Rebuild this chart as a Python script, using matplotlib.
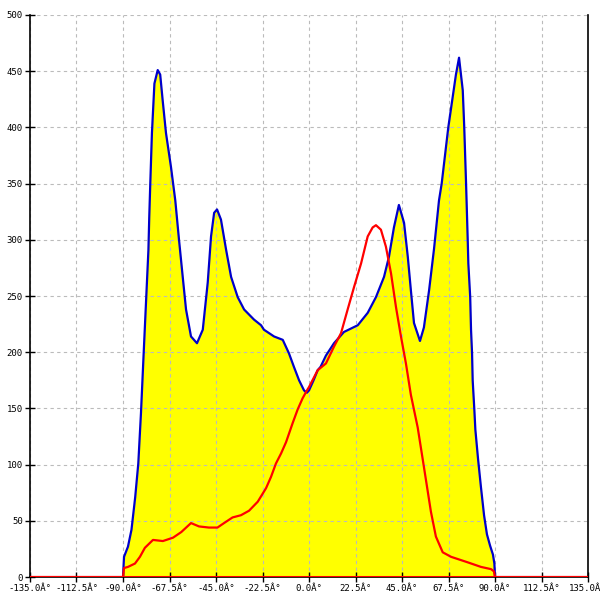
import matplotlib
matplotlib.use("Agg")
import matplotlib.pyplot as plt
import numpy as np

# Blue envelope (filled yellow)
blue_deg = [-90.0, -89.5, -87.6, -85.9, -84.1, -82.6, -81.3, -80.1, -79.1, -77.7,
            -77.3, -76.8, -76.0, -74.8, -73.2, -72.0, -70.8, -69.2, -66.8, -64.7,
            -62.9, -61.1, -59.5, -57.1, -54.2, -51.4, -49.0, -47.4, -45.9, -44.5,
            -42.6, -40.1, -37.7, -34.5, -31.4, -26.6, -23.2, -21.8, -16.9, -12.7,
            -9.7, -7.3, -4.8, -2.4, -1.0, 0.0, 2.2, 4.2, 5.6, 8.2, 12.1, 16.9,
            23.6, 28.4, 32.4, 36.3, 38.7, 41.1, 43.5, 46.0, 47.8, 49.3, 50.8,
            53.7, 55.6, 58.1, 60.5, 62.9, 64.2, 67.4, 71.1, 72.6, 74.4, 75.1,
            76.0, 76.8, 77.1, 78.0, 78.4, 78.9, 79.2, 80.0, 80.5, 81.8, 83.2,
            84.7, 86.1, 87.6, 89.0, 89.7, 90.0]
blue_val = [0, 18, 27, 42, 71, 101, 146, 195, 235, 291,
            320, 350, 395, 439, 451, 447, 424, 395, 365, 335,
            300, 267, 238, 214, 208, 220, 262, 303, 324, 327,
            318, 291, 267, 249, 238, 229, 224, 220, 214, 211,
            199, 187, 175, 166, 164, 166, 175, 184, 187, 197, 208, 218,
            224, 235, 249, 267, 285, 311, 331, 315, 285, 255, 226,
            210, 222, 255, 292, 335, 350, 400, 447, 462, 433, 401,
            350, 300, 279, 249, 220, 199, 175, 149, 131, 105, 80,
            55, 38, 28, 20, 12, 0]

# Red curve
red_deg = [-135.0, -90.0, -89.5, -87.6, -84.2, -81.8, -79.4, -75.5, -70.7, -65.8,
           -61.8, -57.1, -53.2, -48.4, -44.3, -41.1, -37.0, -32.9, -29.0, -24.8,
           -20.8, -18.4, -16.0, -13.5, -11.1, -7.9, -5.5, -3.1, -1.0, 0.0,
           4.2, 8.2, 12.1, 15.5, 18.7, 21.8, 25.2, 28.4, 30.8, 32.4, 34.8,
           37.2, 39.7, 42.1, 44.5, 46.9, 49.3, 52.6, 55.6, 59.0, 61.4, 64.7,
           68.7, 76.9, 83.2, 88.1, 89.5, 90.0, 135.0]
red_val = [0, 0, 8, 9, 12, 18, 26, 33, 32, 35,
           40, 48, 45, 44, 44, 48, 53, 55, 59, 67,
           79, 89, 101, 110, 120, 137, 149, 159, 166, 169,
           184, 190, 205, 217, 238, 258, 279, 303, 311, 313, 309,
           294, 270, 240, 214, 190, 162, 133, 98, 58, 36, 22,
           18, 13, 9, 7, 5, 0, 0]

x_ticks = [-135.0, -112.5, -90.0, -67.5, -45.0, -22.5, 0.0, 22.5, 45.0, 67.5, 90.0, 112.5, 135.0]
y_ticks = [0, 50, 100, 150, 200, 250, 300, 350, 400, 450, 500]

fig = plt.figure(figsize=(6, 6), dpi=100)
ax = fig.add_axes([0.05, 0.0383, 0.93, 0.9367])

ax.fill_between(blue_deg, blue_val, 0, color="#ffff00", linewidth=0, zorder=1)
ax.plot(blue_deg, blue_val, color="#0000cc", linewidth=1.6, zorder=3,
        solid_joinstyle="round")
ax.plot(red_deg, red_val, color="#ff0000", linewidth=1.6, zorder=4,
        solid_joinstyle="round")
ax.axhline(0, color="#ff0000", linewidth=2.2, zorder=4)

ax.set_xlim(-135, 135)
ax.set_ylim(0, 500)
ax.set_xticks(x_ticks)
ax.set_xticklabels([f"{v:.1f}\u00c2\u00b0" for v in x_ticks])
ax.set_yticks(y_ticks)
ax.set_yticklabels([str(v) for v in y_ticks])

ax.grid(True, color="#bbbbbb", linestyle=(0, (3, 3)), linewidth=0.8)
ax.set_axisbelow("line")

ax.spines["top"].set_visible(False)
for s in ["left", "right", "bottom"]:
    ax.spines[s].set_color("black")
    ax.spines[s].set_linewidth(1.2)

ax.tick_params(axis="both", direction="inout", length=6.5, width=1, color="black",
               labelsize=6.5, pad=2)
for lab in ax.get_xticklabels() + ax.get_yticklabels():
    lab.set_family("DejaVu Sans Mono")

fig.savefig("out.png", dpi=100)
